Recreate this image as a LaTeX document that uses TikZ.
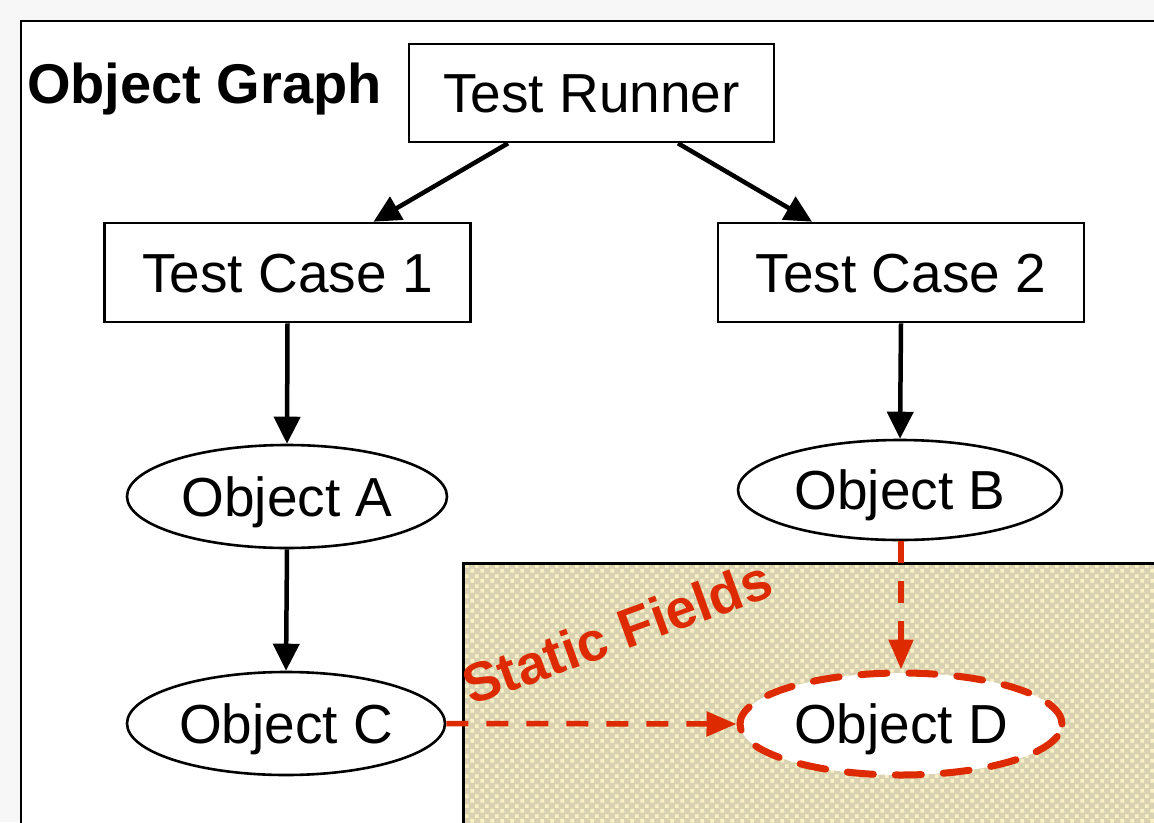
\documentclass[tikz,border=0pt]{standalone}
\usepackage{fontspec}
\setmainfont{Liberation Sans}
\usetikzlibrary{arrows.meta,shapes.geometric,patterns.meta}
\definecolor{bggray}{HTML}{F7F7F7}
\definecolor{beigedark}{HTML}{D8D2B2}
\definecolor{beigelight}{HTML}{FAF2C6}
\definecolor{redline}{HTML}{DD2A00}
\pgfdeclarepattern{
  name=beigecheck,
  type=uncolored,
  bottom left={\pgfpoint{0pt}{0pt}},
  top right={\pgfpoint{10pt}{10pt}},
  tile size={\pgfpoint{10pt}{10pt}},
  code={
    \pgfpathrectangle{\pgfpoint{0.5pt}{0.5pt}}{\pgfpoint{4pt}{4pt}}
    \pgfpathrectangle{\pgfpoint{5.5pt}{5.5pt}}{\pgfpoint{4pt}{4pt}}
    \pgfusepath{fill}
  }
}
\tikzset{
  txt/.style={font=\fontsize{55}{60}\selectfont, text=black, text height=39.4pt, text depth=0pt},
  boxnode/.style={txt, draw=black, line width=2.6pt, fill=white, rectangle, inner sep=0pt},
  ellnode/.style={txt, draw=black, line width=2.6pt, fill=white, ellipse, inner sep=0pt},
  blackarrow/.style={line width=4.5pt, -{Triangle[length=27pt,width=26pt]}},
  redarrow/.style={draw=redline, line width=5.5pt, dash pattern=on 22pt off 18pt, -{Triangle[length=30pt,width=24pt]}, redline},
}
\begin{document}
\begin{tikzpicture}[x=1pt,y=-1pt]
\useasboundingbox (0,0) rectangle (1154,822);
\clip (0,0) rectangle (1154,822);
\fill[bggray] (0,0) rectangle (1154,822);
\fill[white] (21,21) rectangle (1170,840);
\draw[line width=2.6pt] (21,840) -- (21,21) -- (1170,21);
% static fields area
\path[preaction={fill=beigedark}, pattern=beigecheck, pattern color=beigelight] (463,563) rectangle (1170,840);
\draw[line width=3pt] (463,840) -- (463,563) -- (1170,563);
\node[font=\bfseries\fontsize{55}{60}\selectfont, text=redline, rotate=20, inner sep=0pt] (sf) at (617,632) {Static Fields};
% title
\node[font=\bfseries\fontsize{56}{62}\selectfont, anchor=base west, inner sep=0pt] (og) at (27,103) {Object Graph};
% nodes
\node[boxnode, minimum width=365pt, minimum height=98pt] (tr) at (591.5,93) {Test Runner};
\node[boxnode, minimum width=366pt, minimum height=99pt] (tc1) at (287.5,272.5) {Test Case 1};
\node[boxnode, minimum width=366pt, minimum height=99pt] (tc2) at (901,272.5) {Test Case 2};
\node[ellnode, minimum width=320pt, minimum height=103pt] (oa) at (287,496.5) {Object A};
\node[ellnode, minimum width=324pt, minimum height=100pt] (ob) at (900,490) {Object B};
\node[ellnode, minimum width=318pt, minimum height=103pt] (oc) at (286,723.5) {Object C};
\node[txt, ellipse, fill=white, draw=redline, line width=7pt, dash pattern=on 26pt off 22pt, line cap=round, minimum width=322pt, minimum height=102pt, inner sep=0pt] (od) at (901,724) {Object D};
% connectors
\draw[blackarrow] ([xshift=-83.5pt]tr.south) -- ([xshift=86pt]tc1.north);
\draw[blackarrow] ([xshift=86.5pt]tr.south) -- ([xshift=-89pt]tc2.north);
\draw[blackarrow] (tc1.south) -- (oa.north);
\draw[blackarrow] (tc2.south) -- (ob.north);
\draw[blackarrow] (oa.south) -- (oc.north);
\draw[redarrow] ([xshift=1pt]ob.south) -- (od.north);
\draw[redarrow] (oc.east) -- (od.west);
\end{tikzpicture}
\end{document}
